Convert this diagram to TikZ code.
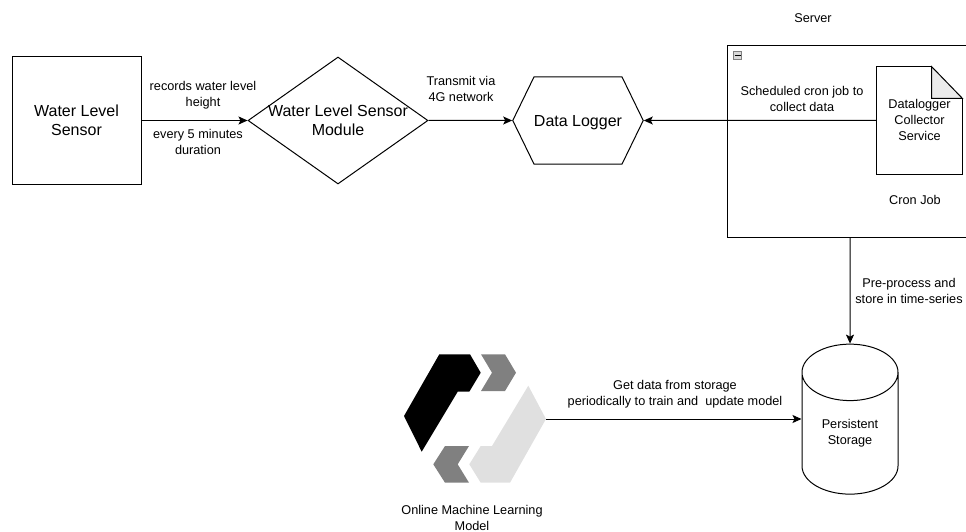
\documentclass[tikz,border=0pt]{standalone}
\usepackage{fontspec}
\setmainfont{Liberation Sans}
\usetikzlibrary{
  shapes.geometric,
  shapes.symbols,
  arrows.meta,
  calc
}

\begin{document}
\begin{tikzpicture}[x=1pt,y=-1pt,line width=1pt,>={Stealth[length=9pt,width=8pt,inset=2pt]},
    box/.style = {draw,rectangle,inner sep=0pt},
    lbl/.style = {align=center,font=\fontsize{12.7}{16}\selectfont,inner sep=0pt},
    big/.style = {align=center,font=\fontsize{16}{19}\selectfont,inner sep=0pt}]
    \useasboundingbox (0,0) rectangle (966,532);

    \node[box,big,minimum width=129pt,minimum height=128pt] (1) at (76.5,120.5) {Water Level\\Sensor};
    \node[diamond,draw,big,aspect=1.42,inner sep=-1pt,minimum width=180pt,minimum height=127pt] (2) at (338,120.5) {Water Level Sensor\\Module};
    \node[signal,signal to=east and west,signal pointer angle=128,draw,big,inner sep=0pt,text height=15pt,text depth=3pt,minimum width=125pt,minimum height=87pt] (3) at (578,120.5) {Data Logger};
    \node[box,minimum width=245pt,minimum height=191pt] (4) at (850,141.5) {};
    \node[lbl,minimum width=85pt,minimum height=107pt] (5) at (919.5,120.5) {};
    \node[cylinder,draw,shape border rotate=90,aspect=1,inner sep=0pt,minimum width=96pt,minimum height=150pt,lbl] (6) at (850,433.5) {Persistent\\Storage};
    \coordinate (7) at (546,419);

    % note with folded corner
    \draw ($(5.north east)+(-31,0)$) -- (5.north west) -- (5.south west) -- (5.south east) -- ($(5.north east)+(0,32)$);
    \draw[fill=black!8] ($(5.north east)+(-31,0)$) -- ($(5.north east)+(0,32)$) -- ($(5.north east)+(-31,32)$) -- cycle;
    % collapse button
    \node[draw=black!50,fill=black!15,line width=0.7pt,inner sep=0pt,minimum size=8pt] (8) at (737.5,55.5) {};
    \draw[line width=0.8pt] ($(8)+(-3,0)$) -- ($(8)+(3,0)$);

    % logo
    \fill[black] (439.3,354.3) -- (470,354.3) -- (480.7,372.7) -- (469.3,391.7) -- (457.7,391.7) -- (421.7,451.7) -- (404,416) -- cycle;
    \fill[black!50] (481,354.3) -- (505,354.3) -- (516,372.7) -- (505,391) -- (481,391) -- (492,372.7) -- cycle;
    \fill[black!12] (528.3,385.7) -- (546,419) -- (510,482.7) -- (480.7,482.7) -- (469.3,464.3) -- (480.7,446) -- (492,446) -- cycle;
    \fill[black!50] (445,446) -- (469,446) -- (457.7,464.3) -- (469,482.7) -- (445,482.7) -- (433.3,464.3) -- cycle;

    \draw[->] (1) -- (2);
    \draw[->] (2) -- (3);
    \draw[->] (5) -- (3);
    \draw[->] (4) -- (6);
    \draw[->] (7) -- (7 -| 6.west);

    \node[lbl] (server) at (813,18) {Server};
    \node[lbl] (records) at (203,95) {records water level\\height};
    \node[lbl] (every) at (198,141.5) {every 5 minutes\\duration};
    \node[lbl] (transmit) at (461,88.5) {Transmit via\\4G network};
    \node[lbl] (cron) at (802,99) {Scheduled cron job to\\collect data};
    \node[lbl] (collector) at (919.5,120) {Datalogger\\Collector\\Service};
    \node[lbl] (job) at (915,199.5) {Cron Job};
    \node[lbl] (store) at (909,291) {Pre-process and\\store in time-series};
    \node[lbl] (train) at (675,394.5) {Get data from storage\\periodically to train and\ \ update model};
    \node[lbl] (online) at (472,518) {Online Machine Learning\\Model};
\end{tikzpicture}
\end{document}
